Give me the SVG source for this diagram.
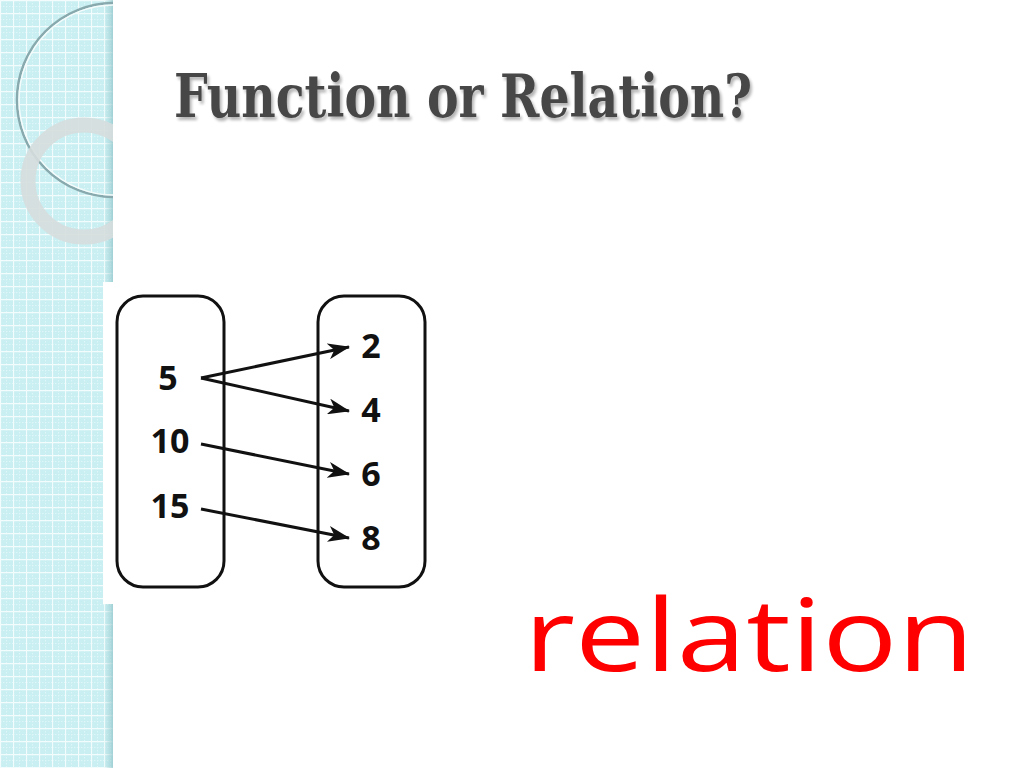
<svg xmlns="http://www.w3.org/2000/svg" width="1024" height="768" viewBox="0 0 1024 768">
<defs>
<pattern id="grid" x="0" y="0" width="13" height="13" patternUnits="userSpaceOnUse">
<rect width="13" height="13" fill="#c9eff2"/>
<path d="M6.5 0V13M0 6.5H13" stroke="#def6f7" stroke-width="1" stroke-dasharray="1.5 1.5"/>
<path d="M0 0.5H13M0.5 0V13" stroke="#f2fcfc" stroke-width="1.3"/>
</pattern>
<linearGradient id="edge" x1="0" x2="1" y1="0" y2="0">
<stop offset="0" stop-color="#9fcfd3" stop-opacity="0"/>
<stop offset="1" stop-color="#8fc3c8" stop-opacity="0.7"/>
</linearGradient>
<clipPath id="strip"><rect x="0" y="0" width="113" height="768"/></clipPath>
<filter id="shadow" x="-5%" y="-20%" width="110%" height="150%">
<feGaussianBlur in="SourceAlpha" stdDeviation="1.5"/>
<feOffset dx="2" dy="3" result="b"/>
<feComponentTransfer><feFuncA type="linear" slope="0.3"/></feComponentTransfer>
<feMerge><feMergeNode/><feMergeNode in="SourceGraphic"/></feMerge>
</filter>
<marker id="arrow" viewBox="0 0 22 16" refX="21" refY="8" markerWidth="22" markerHeight="16" markerUnits="userSpaceOnUse" orient="auto">
<path d="M0 0L22 8L0 16L6 8Z" fill="#111"/>
</marker>
<style>
.box{fill:#fff;stroke:#111;stroke-width:3}
.num{font-family:"Open Sans","DejaVu Sans",sans-serif;font-weight:bold;font-size:34px;fill:#111;text-anchor:middle}
.conn{stroke:#111;stroke-width:3;fill:none;marker-end:url(#arrow)}
</style>
</defs>
<rect width="1024" height="768" fill="#fff"/>
<g id="strip-bg">
<rect x="0" y="0" width="113" height="768" fill="url(#grid)"/>
<rect x="104" y="0" width="9" height="768" fill="url(#edge)"/>
<g clip-path="url(#strip)">
<circle cx="114" cy="100" r="97" fill="none" stroke="#88a9ad" stroke-width="2.5"/>
<circle cx="114" cy="100" r="95" fill="none" stroke="#f4fbfb" stroke-width="1.5"/>
<circle cx="84" cy="181" r="56" fill="none" stroke="#d6dddd" stroke-opacity="0.9" stroke-width="15"/>
</g>
</g>
<g id="title">
<text x="174" y="117" font-family="'DejaVu Serif Condensed','DejaVu Serif',serif" font-weight="bold" font-size="59" fill="#474747" textLength="578" lengthAdjust="spacingAndGlyphs" filter="url(#shadow)">Function or Relation?</text>
</g>
<rect x="103" y="282" width="338" height="322" fill="#fff"/>
<g id="domain">
<rect class="box" x="117" y="296" width="107" height="291" rx="26"/>
<text class="num" x="168" y="390">5</text>
<text class="num" x="170" y="453">10</text>
<text class="num" x="170" y="518">15</text>
</g>
<g id="range">
<rect class="box" x="318" y="296" width="107" height="291" rx="26"/>
<text class="num" x="371" y="358">2</text>
<text class="num" x="371" y="422">4</text>
<text class="num" x="371" y="486">6</text>
<text class="num" x="371" y="550">8</text>
</g>
<g id="connectors">
<line class="conn" x1="201" y1="378" x2="349" y2="347"/>
<line class="conn" x1="201" y1="378" x2="349" y2="411"/>
<line class="conn" x1="201" y1="444" x2="349" y2="474"/>
<line class="conn" x1="201" y1="509" x2="349" y2="538"/>
</g>
<g id="answer">
<text x="524" y="671" font-family="'Open Sans','DejaVu Sans',sans-serif" font-size="101" fill="#ff0000" textLength="450" lengthAdjust="spacingAndGlyphs">relation</text>
</g>
</svg>
